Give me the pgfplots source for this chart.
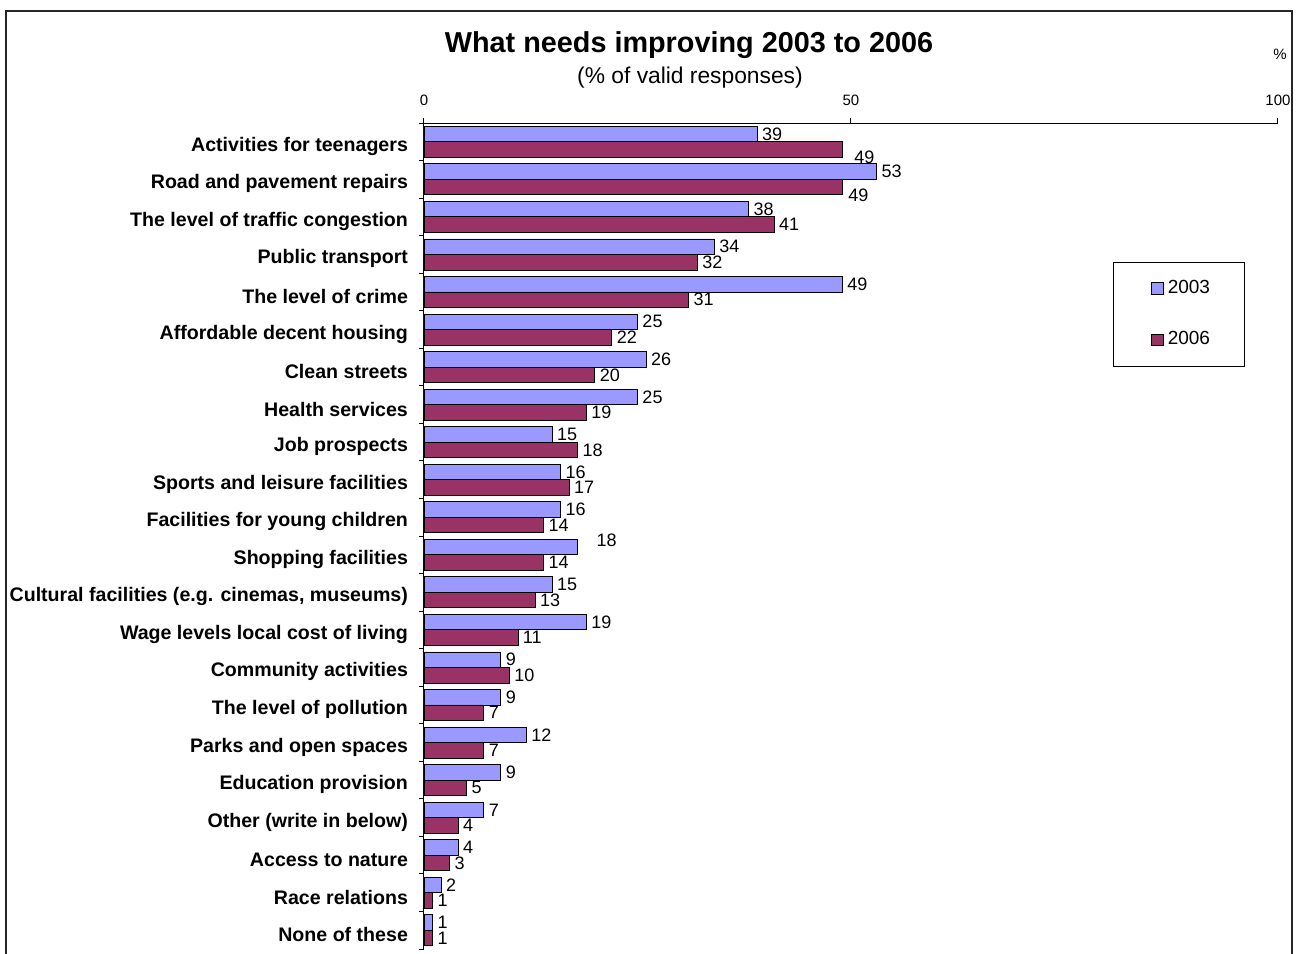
\documentclass[border=0pt]{standalone}
\usepackage{fontspec}
\setmainfont{Liberation Sans}
\usepackage{pgfplots}
\usepackage{pgfplotstable}
\pgfplotsset{compat=1.18}

\definecolor{bar03}{HTML}{9999FF}
\definecolor{bar06}{HTML}{993366}

% idx = row from the top; dx/dy = nudges (pt) for the value labels
\pgfplotstableread{
idx v03 v06 dx03 dy03 dx06 dy06
0  39 49 0   0   3.5 -3.75
1  53 49 0   0   0.5 -4
2  38 41 0   0   0  0
3  34 32 0   0   0  0
4  49 31 0   0   0  0
5  25 22 0   0   0  0
6  26 20 0   0   0  0
7  25 19 0   0   0  0
8  15 18 0   0   0  0
9  16 17 0   0   0  0
10 16 14 0   0   0  0
11 18 14 7   3.5 0  0
12 15 13 0   0   0  0
13 19 11 0   0   0  0
14 9  10 0   0   0  0
15 9  7  0   0   0  0
16 12 7  0   0   0  0
17 9  5  0   0   0  0
18 7  4  0   0   0  0
19 4  3  0   0   0  0
20 2  1  0   0   0  0
21 1  1  0   0   0  0
}\improve

\begin{document}
\begin{tikzpicture}
\useasboundingbox (0,0) rectangle (649pt,477pt);
% outer frame (open at the bottom)
\draw[line width=1pt, black!85] (3pt,-2pt) -- (3pt,471.5pt) -- (646pt,471.5pt) -- (646pt,-2pt);

\node[font=\bfseries\fontsize{14.4}{16}\selectfont] at (344.5pt,454.5pt) {What needs improving 2003 to 2006};
\node[font=\fontsize{11.4}{13}\selectfont] at (345pt,438pt) {(\% of valid responses)};
\node[font=\fontsize{7.5}{9}\selectfont] at (640pt,450pt) {\%};

\begin{axis}[
  at={(212pt,2.5pt)}, anchor=south west,
  scale only axis, width=427pt, height=413pt,
  clip=false,
  /pgf/number format/assume math mode=true,
  axis x line*=top, axis y line*=left,
  axis line style={-, black, line width=0.5pt},
  xmin=0, xmax=100,
  ymin=-0.5, ymax=21.5, y dir=reverse,
  xtick={0,50,100},
  xticklabel style={font=\fontsize{7.5}{9}\selectfont, yshift=2.5pt},
  tick align=outside, major tick length=2.5pt,
  tick style={black, line width=0.5pt},
  ytick={-0.5,0.5,...,21.5}, yticklabels={},
  extra y ticks={0,...,21},
  extra y tick style={major tick length=0pt},
  extra y tick labels={Activities for teenagers, Road and pavement repairs, The level of traffic congestion, Public transport, The level of crime, Affordable decent housing, Clean streets, Health services, Job prospects, Sports and leisure facilities, Facilities for young children, Shopping facilities, {Cultural facilities (e.g. cinemas, museums)}, Wage levels local cost of living, Community activities, The level of pollution, Parks and open spaces, Education provision, Other (write in below), Access to nature, Race relations, None of these},
  yticklabel style={font=\bfseries\fontsize{9.8}{11}\selectfont, xshift=-4.5pt, yshift=-2.25pt},
  xbar, bar width=7.75pt,
  nodes near coords,
  nodes near coords style={font=\fontsize{9}{10}\selectfont, inner sep=2.3pt},
  legend style={at={(0.8068,0.8317)}, anchor=north west, draw=black, line width=0.4pt,
    font=\fontsize{9.5}{11}\selectfont, row sep=13.5pt, inner xsep=15pt, inner ysep=7pt,
    cells={anchor=west}},
  legend image code/.code={\path (-4pt,0pt);\draw[#1,draw=black,line width=0.4pt] (0pt,-2.9pt) rectangle (5.8pt,2.9pt);},
]
\addplot[fill=bar03, draw=black, line width=0.4pt, bar shift=3.875pt,
  visualization depends on={\thisrow{dx03} \as \dx},
  visualization depends on={\thisrow{dy03} \as \dy},
  every node near coord/.append style={xshift=\dx, yshift=\dy}]
  table[x=v03, y=idx] {\improve};
\addplot[fill=bar06, draw=black, line width=0.4pt, bar shift=-3.875pt,
  visualization depends on={\thisrow{dx06} \as \dx},
  visualization depends on={\thisrow{dy06} \as \dy},
  every node near coord/.append style={xshift=\dx, yshift=\dy}]
  table[x=v06, y=idx] {\improve};
\legend{2003, 2006}
\end{axis}
\end{tikzpicture}
\end{document}
